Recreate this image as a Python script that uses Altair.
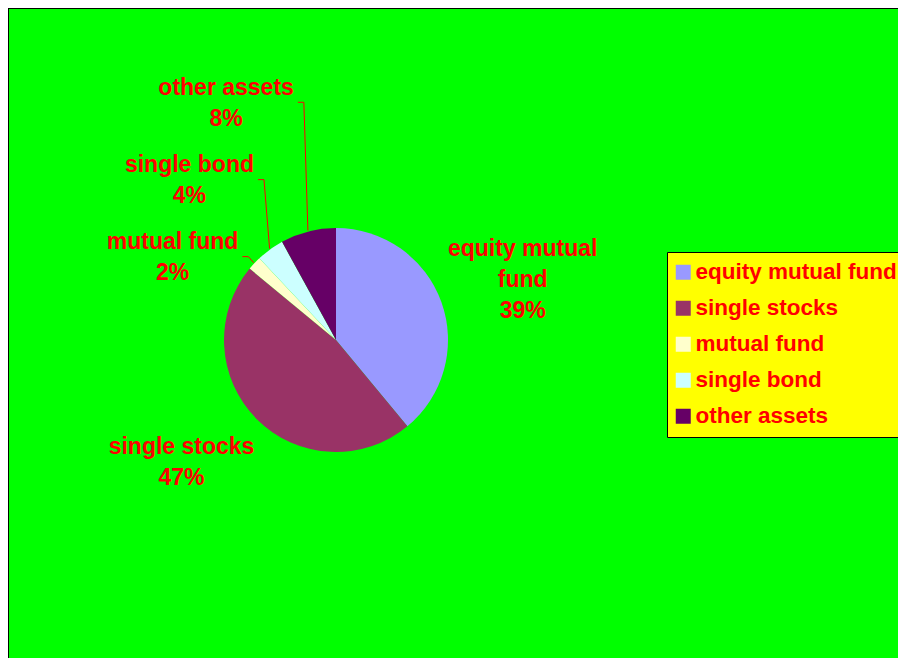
import math
import textwrap

import altair as alt
import pandas as pd

# ---- data ----
categories = ["equity mutual fund", "single stocks", "mutual fund", "single bond", "other assets"]
values = [39, 47, 2, 4, 8]
colors = ["#9999FF", "#993366", "#FFFFCC", "#CCFFFF", "#660066"]

# label placement as dragged in the original: distance from the pie centre and
# angular shift (degrees) away from the slice's mid-angle
label_radius = [196, 197.5, 183, 216.5, 261]
label_shift_deg = [2.1, 6.45, -16.45, -6.6, -10.5]
has_leader = [False, False, True, True, True]

# ---- layout ----
W, H = 890, 650
CX, CY = 328, 332
R = 112
FONT = "Liberation Sans"
FS = 23
LH = 31
RED = "#FF0000"

# approximate Arial-bold advance widths (em) for estimating label widths
CW = {"a": .556, "b": .611, "c": .556, "d": .611, "e": .556, "f": .333, "g": .611,
      "h": .611, "i": .278, "k": .556, "l": .278, "m": .889, "n": .611, "o": .611,
      "q": .611, "r": .389, "s": .556, "t": .333, "u": .611, "y": .556, " ": .278,
      "%": .889}


def text_w(s):
    return sum(CW.get(ch, .556) for ch in s) * FS


total = sum(values)
rows, lead = [], []
cum = 0
for i, (cat, v) in enumerate(zip(categories, values)):
    mid = (cum + v / 2) / total * 2 * math.pi
    cum += v
    a = mid + math.radians(label_shift_deg[i])
    ax = CX + label_radius[i] * math.sin(a)
    ay = CY - label_radius[i] * math.cos(a)
    lines = textwrap.wrap(cat, 13) + [f"{round(v / total * 100)}%"]
    # first-line baseline so that the text block is centred on the anchor
    base = ay + 0.3 * FS - (len(lines) - 1) / 2 * LH
    rows.append({"category": cat, "value": v, "idx": i, "lx": ax, "ly": base,
                 "label": "\n".join(lines)})
    if has_leader[i]:
        hw = max(text_w(l) for l in lines) / 2
        pts = [(ax + hw + 4, ay - 1), (ax + hw + 10, ay - 1),
               (CX + (R + 1) * math.sin(mid), CY - (R + 1) * math.cos(mid))]
        for k, (px, py) in enumerate(pts):
            lead.append({"category": cat, "pt": k, "x": px, "y": py})

df = pd.DataFrame(rows)
ldf = pd.DataFrame(lead)

pie = alt.Chart(df).mark_arc(outerRadius=R).encode(
    theta=alt.Theta("value:Q", stack=True),
    color=alt.Color(
        "category:N",
        scale=alt.Scale(domain=categories, range=colors),
        legend=alt.Legend(
            title=None, orient="none", legendX=659, legendY=244,
            fillColor="#FFFF00", strokeColor="#000000", padding=9,
            symbolType="square", symbolSize=225, symbolStrokeWidth=0,
            symbolOffset=-4, symbolOpacity=1, labelFont=FONT,
            labelFontWeight="bold", labelFontSize=22.5, labelColor=RED,
            labelOffset=1, rowPadding=13, labelLimit=500,
        ),
    ),
    order=alt.Order("idx:Q"),
    x=alt.value(CX),
    y=alt.value(CY),
)

leaders = alt.Chart(ldf).mark_line(color=RED, strokeWidth=1).encode(
    x=alt.X("x:Q", scale=None, axis=None),
    y=alt.Y("y:Q", scale=None, axis=None),
    detail="category:N",
    order="pt:Q",
)

labels = alt.Chart(df).mark_text(
    font=FONT, fontWeight="bold", fontSize=FS, color=RED, align="center",
    baseline="alphabetic", lineBreak="\n", lineHeight=LH,
).encode(
    x=alt.X("lx:Q", scale=None, axis=None),
    y=alt.Y("ly:Q", scale=None, axis=None),
    text="label:N",
)

# frame: only the top and left edges of the original's border are in view
frame_top = alt.Chart(df).mark_rule(color="#000000", strokeWidth=1).encode(
    x=alt.value(0), x2=alt.value(W), y=alt.value(0))
frame_left = alt.Chart(df).mark_rule(color="#000000", strokeWidth=1).encode(
    x=alt.value(0), y=alt.value(0), y2=alt.value(H))

chart = alt.layer(pie, leaders, labels, frame_top, frame_left).properties(
    width=W, height=H, padding=0, background="#00FF00",
    autosize=alt.AutoSizeParams(type="none"),
).configure_view(fill="#00FF00", strokeWidth=0)

chart.save("out.html", embed_options={"renderer": "svg", "actions": False})
